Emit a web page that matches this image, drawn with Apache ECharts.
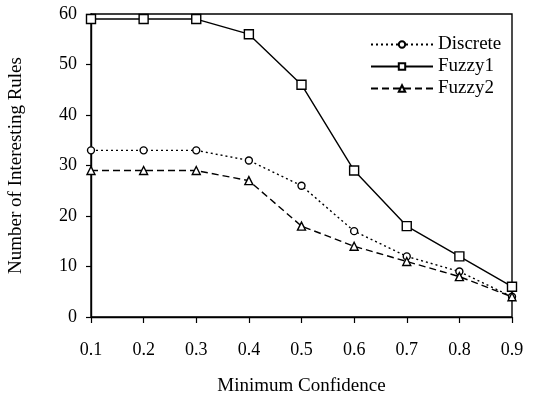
<!DOCTYPE html>
<html>
<head>
<meta charset="utf-8">
<script src="https://cdn.jsdelivr.net/npm/echarts@6/dist/echarts.min.js"></script>
<style>html,body{margin:0;padding:0;background:#fff}#c{width:534px;height:398px}</style>
</head>
<body>
<div id="c"></div>
<script>
const categories = ['0.1','0.2','0.3','0.4','0.5','0.6','0.7','0.8','0.9'];
const discrete = [33,33,33,31,26,17,12,9,4];
const fuzzy1 = [59,59,59,56,46,29,18,12,6];
const fuzzy2 = [29,29,29,27,18,14,11,8,4];
const yTicks = [0,10,20,30,40,50,60];

const font = 'Liberation Serif';
const chart = echarts.init(document.getElementById('c'));
function mk(name, data, symbol, size, type, width) {
  return {
    name, type: 'line', data, symbol, symbolSize: size,
    showSymbol: true,
    lineStyle: { color: '#000', width: width, type: type },
    itemStyle: { color: '#fff', borderColor: '#000', borderWidth: 1.4 },
    emphasis: { disabled: true },
    animation: false
  };
}
chart.setOption({
  backgroundColor: '#fff',
  animation: false,
  grid: { left: 91, right: 22, top: 14, bottom: 81, show: true, borderColor: '#000', borderWidth: 1.4,
          containLabel: false, outerBoundsMode: 'none' },
  legend: {
    orient: 'vertical', left: 365, top: 30,
    itemWidth: 62, itemHeight: 8, itemGap: 3,
    textStyle: { fontFamily: font, fontSize: 19, color: '#000' },
    data: ['Discrete','Fuzzy1','Fuzzy2']
  },
  xAxis: {
    type: 'category', data: categories, boundaryGap: false,
    name: 'Minimum Confidence', nameLocation: 'middle', nameGap: 60,
    nameTextStyle: { fontFamily: font, fontSize: 19, color: '#000' },
    axisLine: { lineStyle: { color: '#000', width: 1.4 } },
    axisTick: { show: true, length: 6, inside: false, lineStyle: { color: '#000', width: 1.2 }, alignWithLabel: true },
    axisLabel: { fontFamily: font, fontSize: 18, color: '#000', margin: 24 },
    splitLine: { show: false }
  },
  yAxis: {
    type: 'value', min: yTicks[0], max: yTicks[yTicks.length-1], interval: 10,
    name: 'Number of Interesting Rules', nameLocation: 'middle', nameGap: 65,
    nameTextStyle: { fontFamily: font, fontSize: 19, color: '#000' },
    axisLine: { show: true, lineStyle: { color: '#000', width: 1.4 } },
    axisTick: { show: true, length: 5, lineStyle: { color: '#000', width: 1.2 } },
    axisLabel: { fontFamily: font, fontSize: 18, color: '#000', margin: 14 },
    splitLine: { show: false }
  },
  series: [
    mk('Discrete', discrete, 'circle', 7, [2,3], 1.4),
    mk('Fuzzy1', fuzzy1, 'rect', 9, 'solid', 1.4),
    mk('Fuzzy2', fuzzy2, 'triangle', 8, [7,4], 1.4)
  ]
});
</script>
</body>
</html>
